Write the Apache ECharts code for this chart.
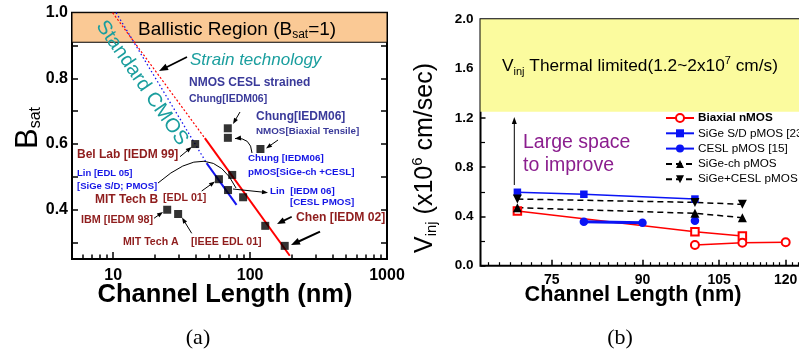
<!DOCTYPE html>
<html><head><meta charset="utf-8">
<script src="https://cdn.jsdelivr.net/npm/echarts@6/dist/echarts.min.js"></script>
<style>html,body{margin:0;padding:0;background:#fff}#c{width:799px;height:351px}</style>
</head><body><div id="c"></div>
<script>
// ---------- Panel (a) data ----------
const aXLabels = [10, 100, 1000];
const aXMinorTicks = [6, 7, 8, 9, 20, 30, 40, 50, 60, 70, 80, 90, 200, 300, 400, 500, 600, 700, 800, 900];
const aYLabels = [0.4, 0.6, 0.8, 1.0];
const aYTicks = [0.3, 0.4, 0.5, 0.6, 0.7, 0.8, 0.9, 1.0];
const strainDotted = [[9.9, 1.0], [46.7, 0.618]];
const strainSolid = [[46.7, 0.618], [195, 0.26]];
const standardDotted = [[10.5, 1.0], [48.1, 0.542]];
const standardSolid = [[48.1, 0.542], [79.6, 0.415]];
const reportedPoints = [[39.7, 0.6], [68.7, 0.648], [68.8, 0.619], [119, 0.585], [74, 0.506], [59.2, 0.493],
  [69, 0.46], [88.9, 0.438], [129, 0.351], [179, 0.29], [24.8, 0.4], [29.8, 0.387]];
const ballisticBand = [0.91, 1.0];

// ---------- Panel (b) data ----------
const bXLabels = [75, 90, 105, 120];
const bYLabels = [0.0, 0.4, 0.8, 1.2, 1.6, 2.0];
const biaxialCircles = [[100, 0.168], [110, 0.187], [120, 0.19]];
const biaxialSquares = [[70, 0.444], [100, 0.276], [110, 0.241]];
const sigeSD = [[70, 0.596], [80, 0.58], [100, 0.541]];
const ceslP = [[80, 0.357], [90, 0.349], [90, '-'], [100, 0.365]];
const sigeCh = [[70, 0.471], [100, 0.425], [110, 0.39]];
const sigeCesl = [[70, 0.541], [100, 0.514], [110, 0.498]];
const thermalBand = [1.25, 2.0];
const seriesNames = ['Biaxial nMOS', 'SiGe S/D pMOS [23]', 'CESL pMOS [15]', 'SiGe-ch pMOS', 'SiGe+CESL pMOS'];

const bXMinorTicks = [];
for (let v = 66; v < 125; v += 1.5) { if (Math.abs(v % 15) > 0.01) bXMinorTicks.push(v); }

const FF = '"Liberation Sans", Arial, sans-serif';
const DR = '#8f1d1d', SL = '#3a3a9a', BL = '#1515e6', TE = '#1a9e9e';

function txt(x, y, text, font, fill, extra) {
  const e = { type: 'text', x: x, y: y, z: 100, style: { text: text, x: 0, y: 0, font: font, fill: fill,
    align: 'left', verticalAlign: 'middle', textAlign: 'left', textVerticalAlign: 'middle' } };
  if (extra) { Object.assign(e, extra.el || {}); Object.assign(e.style, extra.style || {}); }
  return e;
}
function head(x2, y2, ang, hl, hw, col) {
  const c = Math.cos(ang), s = Math.sin(ang);
  const bx = x2 - hl * c, by = y2 - hl * s;
  return { type: 'polygon', z: 100, shape: { points: [[x2, y2], [bx + hw / 2 * s, by - hw / 2 * c], [bx - hw / 2 * s, by + hw / 2 * c]] },
    style: { fill: col || '#000', stroke: null } };
}
function arrow(x1, y1, x2, y2, w, hl, hw) {
  const ang = Math.atan2(y2 - y1, x2 - x1);
  const bx = x2 - hl * 0.8 * Math.cos(ang), by = y2 - hl * 0.8 * Math.sin(ang);
  return [{ type: 'line', z: 100, shape: { x1: x1, y1: y1, x2: bx, y2: by }, style: { stroke: '#000', lineWidth: w } },
    head(x2, y2, ang, hl, hw)];
}
function curve(x1, y1, cx, cy, x2, y2, w, withHead) {
  const out = [{ type: 'bezierCurve', z: 100, shape: { x1: x1, y1: y1, cpx1: cx, cpy1: cy, x2: x2, y2: y2 },
    style: { stroke: '#000', lineWidth: w, fill: null } }];
  if (withHead) out.push(head(x2, y2, Math.atan2(y2 - cy, x2 - cx), 6, 5));
  return out;
}

const graphics = [
  // panel (a) texts
  txt(138, 30, '{n|Ballistic Region (B}{s|sat}{n|=1)}', '19px ' + FF, '#000', { style: { rich: {
    n: { fontSize: 19, fontFamily: FF, fill: '#000', lineHeight: 22 },
    s: { fontSize: 12, fontFamily: FF, fill: '#000', verticalAlign: 'bottom', lineHeight: 12 } } } }),
  txt(142, 83, 'Standard CMOS', '20px ' + FF, TE, { el: { rotation: -0.967 }, style: { align: 'center', textAlign: 'center' } }),
  txt(190, 60, 'Strain technology', 'italic 17px ' + FF, TE),
  txt(189, 83, 'NMOS CESL strained', 'bold 12px ' + FF, SL),
  txt(189, 99, 'Chung[IEDM06]', 'bold 10.5px ' + FF, SL),
  txt(256, 117, 'Chung[IEDM06]', 'bold 12px ' + FF, SL),
  txt(256, 131, 'NMOS[Biaxial Tensile]', 'bold 9.8px ' + FF, SL),
  txt(248, 158, 'Chung [IEDM06]', 'bold 9.8px ' + FF, BL),
  txt(248, 172.7, 'pMOS[SiGe-ch +CESL]', 'bold 9.8px ' + FF, BL),
  txt(270, 191, 'Lin  [IEDM 06]', 'bold 9.8px ' + FF, BL),
  txt(290, 202, '[CESL PMOS]', 'bold 9.8px ' + FF, BL),
  txt(296, 218, 'Chen [IEDM 02]', 'bold 12.2px ' + FF, DR),
  txt(77, 155, 'Bel Lab [IEDM 99]', 'bold 12px ' + FF, DR),
  txt(77, 173, 'Lin [EDL 05]', 'bold 9.5px ' + FF, BL),
  txt(77, 186, '[SiGe S/D; PMOS]', 'bold 9.5px ' + FF, BL),
  txt(95, 200, 'MIT Tech B', 'bold 12px ' + FF, DR),
  txt(163, 198, '[EDL 01]', 'bold 10.7px ' + FF, DR),
  txt(81, 220, 'IBM [IEDM 98]', 'bold 10.8px ' + FF, DR),
  txt(123, 242, 'MIT Tech A', 'bold 10.6px ' + FF, DR),
  txt(191, 242, '[IEEE EDL 01]', 'bold 10.7px ' + FF, DR),
  // panel (a) axis titles
  txt(28, 128, '{b|B}{s|sat}', '31px ' + FF, '#000', { el: { rotation: Math.PI / 2 }, style: { align: 'center', textAlign: 'center', rich: {
    b: { fontSize: 31, fontFamily: FF, fill: '#000', lineHeight: 32 },
    s: { fontSize: 16, fontFamily: FF, fill: '#000', verticalAlign: 'bottom', lineHeight: 14 } } } }),
  txt(225, 295, 'Channel Length (nm)', 'bold 25.5px ' + FF, '#000', { style: { align: 'center', textAlign: 'center' } }),
  txt(198, 338, '(a)', '22px "Liberation Serif", serif', '#000', { style: { align: 'center', textAlign: 'center' } }),
  // panel (b) texts
  txt(502, 66, '{n|V}{s|inj}{n| Thermal limited(1.2~2x10}{p|7}{n| cm/s)}', '17px ' + FF, '#000', { style: { rich: {
    n: { fontSize: 17.3, fontFamily: FF, fill: '#000', lineHeight: 22 },
    s: { fontSize: 11, fontFamily: FF, fill: '#000', verticalAlign: 'bottom', lineHeight: 11 },
    p: { fontSize: 11, fontFamily: FF, fill: '#000', verticalAlign: 'top', lineHeight: 11 } } } }),
  txt(523, 143, 'Large space', '19.5px ' + FF, '#8b1e8e'),
  txt(523, 166, 'to improve', '19.5px ' + FF, '#8b1e8e'),
  txt(425, 158, '{n|V}{s|inj}{n| (x10}{p|6}{n| cm/sec)}', '25px ' + FF, '#000', { el: { rotation: Math.PI / 2 }, style: { align: 'center', textAlign: 'center', rich: {
    n: { fontSize: 25, fontFamily: FF, fill: '#000', lineHeight: 29 },
    s: { fontSize: 15, fontFamily: FF, fill: '#000', verticalAlign: 'bottom', lineHeight: 13 },
    p: { fontSize: 15, fontFamily: FF, fill: '#000', verticalAlign: 'top', lineHeight: 15 } } } }),
  txt(633, 295, 'Channel Length (nm)', 'bold 21.7px ' + FF, '#000', { style: { align: 'center', textAlign: 'center' } }),
  txt(620, 338, '(b)', '22px "Liberation Serif", serif', '#000', { style: { align: 'center', textAlign: 'center' } })
].concat(
  arrow(187, 57, 159, 71, 1.8, 9, 7),
  arrow(240, 112, 233, 124, 1, 6, 4.5),
  arrow(278, 140, 266, 148.5, 1, 6, 4.5),
  arrow(233, 189, 268, 192.7, 1, 6, 4.5),
  arrow(291.7, 216.7, 277, 224, 1.8, 8, 6.5),
  arrow(320, 231.7, 291, 245, 2, 9, 7),
  arrow(180, 156.7, 191.7, 147, 1, 6, 4.5),
  arrow(201.7, 191, 215, 181.5, 1, 6, 4.5),
  arrow(154, 218.3, 163, 212, 1, 6, 4.5),
  arrow(191.7, 233.3, 182, 217.5, 1, 6, 4.5),
  curve(252, 153, 251, 137, 235, 138.5, 1, true),
  curve(158, 183, 211, 137, 236, 188, 1, false),
  arrow(514.3, 185, 514.3, 117, 1, 7, 5)
);

const chart = echarts.init(document.getElementById('c'), null, { renderer: 'canvas' });
const axisFontA = { fontFamily: FF, fontWeight: 'bold', color: '#000' };
const tickStyle = { color: '#000', width: 1.5 };
chart.setOption({
  animation: false,
  backgroundColor: '#fff',
  grid: [
    { left: 72, top: 12.7, width: 315, height: 246.3, show: true, borderColor: '#000', borderWidth: 2, backgroundColor: 'transparent', containLabel: false, outerBoundsMode: 'none' },
    { left: 480.5, top: 19.3, width: 325.5, height: 246.4, show: true, borderColor: '#000', borderWidth: 2, backgroundColor: 'transparent', containLabel: false, outerBoundsMode: 'none' }
  ],
  xAxis: [
    { type: 'log', logBase: 10, gridIndex: 0, min: 5, max: 1000, position: 'bottom',
      axisLine: { show: false }, splitLine: { show: false },
      axisTick: { show: true, inside: true, length: 7, customValues: aXLabels, lineStyle: tickStyle },
      axisLabel: { show: true, customValues: aXLabels, formatter: v => String(Math.round(v)), margin: 9, fontSize: 16, ...axisFontA } },
    { type: 'log', logBase: 10, gridIndex: 0, min: 5, max: 1000, position: 'bottom',
      axisLine: { show: false }, splitLine: { show: false }, axisLabel: { show: false },
      axisTick: { show: true, inside: true, length: 4.5, customValues: aXMinorTicks, lineStyle: tickStyle } },
    { type: 'log', logBase: 10, gridIndex: 1, min: 65, max: 125, position: 'bottom',
      axisLine: { show: false }, splitLine: { show: false },
      axisTick: { show: true, inside: true, length: 6, customValues: bXLabels, lineStyle: tickStyle },
      axisLabel: { show: true, customValues: bXLabels, formatter: v => String(Math.round(v)), margin: 7, fontSize: 14, ...axisFontA } },
    { type: 'log', logBase: 10, gridIndex: 1, min: 65, max: 125, position: 'bottom',
      axisLine: { show: false }, splitLine: { show: false }, axisLabel: { show: false },
      axisTick: { show: true, inside: true, length: 3.5, customValues: bXMinorTicks, lineStyle: { color: '#000', width: 1.2 } } }
  ],
  yAxis: [
    { type: 'value', gridIndex: 0, min: 0.25, max: 1.0, position: 'left',
      axisLine: { show: false }, splitLine: { show: false },
      axisTick: { show: true, inside: true, length: 6, customValues: aYTicks, lineStyle: tickStyle },
      axisLabel: { show: true, customValues: aYLabels, formatter: v => v.toFixed(1), margin: 4, fontSize: 16, ...axisFontA } },
    { type: 'value', gridIndex: 0, min: 0.25, max: 1.0, position: 'right',
      axisLine: { show: false }, splitLine: { show: false }, axisLabel: { show: false },
      axisTick: { show: true, inside: true, length: 6, customValues: aYTicks, lineStyle: tickStyle } },
    { type: 'value', gridIndex: 1, min: 0, max: 2.0, interval: 0.4, position: 'left',
      axisLine: { show: false }, splitLine: { show: false },
      axisTick: { show: true, inside: true, length: 5, lineStyle: tickStyle },
      minorTick: { show: true, splitNumber: 2, length: 4.5, lineStyle: { color: '#000', width: 1.2 } },
      axisLabel: { show: true, customValues: bYLabels, formatter: v => v.toFixed(1), margin: 7, fontSize: 13.5, ...axisFontA } }
  ],
  legend: {
    show: true, orient: 'vertical', left: 665, top: 111.5, itemWidth: 28, itemHeight: 10, itemGap: 2.3,
    selectedMode: false, padding: 0,
    textStyle: { fontFamily: FF, fontSize: 11.7, color: '#000', lineHeight: 13, padding: [0, 0, 0, -1] },
    data: seriesNames.map((n, i) => i === 0 ? { name: n, textStyle: { fontWeight: 'bold' } } : { name: n })
  },
  series: [
    { name: 'strainDotted', type: 'line', xAxisIndex: 0, yAxisIndex: 0, data: strainDotted, showSymbol: false, symbol: 'none',
      lineStyle: { color: '#f00', width: 1.2, type: [2, 2] },
      markArea: { silent: true, itemStyle: { color: '#fac995', borderColor: '#000', borderWidth: 1 },
        data: [[{ xAxis: 5, yAxis: ballisticBand[0] }, { xAxis: 1000, yAxis: ballisticBand[1] }]] } },
    { name: 'strainSolid', type: 'line', xAxisIndex: 0, yAxisIndex: 0, data: strainSolid, showSymbol: false, symbol: 'none',
      lineStyle: { color: '#f00', width: 2 } },
    { name: 'standardDotted', type: 'line', xAxisIndex: 0, yAxisIndex: 0, data: standardDotted, showSymbol: false, symbol: 'none',
      lineStyle: { color: '#1515f0', width: 1.3, type: [1.5, 2.5] } },
    { name: 'standardSolid', type: 'line', xAxisIndex: 0, yAxisIndex: 0, data: standardSolid, showSymbol: false, symbol: 'none',
      lineStyle: { color: '#1515f0', width: 2 } },
    { name: 'reported', type: 'scatter', xAxisIndex: 0, yAxisIndex: 0, data: reportedPoints, symbol: 'rect', symbolSize: 8,
      itemStyle: { color: '#000' }, z: 5 },
    // panel (b)
    { name: 'biaxialSq', type: 'line', xAxisIndex: 2, yAxisIndex: 2, data: biaxialSquares, symbol: 'emptyRect', symbolSize: 7.5,
      lineStyle: { color: '#f00', width: 1.5 }, itemStyle: { color: '#f00', borderColor: '#f00', borderWidth: 1.3 },
      markArea: { silent: true, itemStyle: { color: '#fbfb9e' },
        data: [[{ xAxis: 65, yAxis: thermalBand[0] }, { xAxis: 125, yAxis: thermalBand[1] }]] } },
    { name: seriesNames[0], type: 'line', xAxisIndex: 2, yAxisIndex: 2, data: biaxialCircles, symbol: 'emptyCircle', symbolSize: 8,
      lineStyle: { color: '#f00', width: 1.5 }, itemStyle: { color: '#f00', borderColor: '#f00', borderWidth: 1.3 } },
    { name: seriesNames[1], type: 'line', xAxisIndex: 2, yAxisIndex: 2, data: sigeSD, symbol: 'rect', symbolSize: 7.5,
      lineStyle: { color: '#0a14f5', width: 1.5 }, itemStyle: { color: '#0a14f5' } },
    { name: seriesNames[2], type: 'line', xAxisIndex: 2, yAxisIndex: 2, data: ceslP, symbol: 'circle', symbolSize: 8.5, connectNulls: false,
      lineStyle: { color: '#0a14f5', width: 3 }, itemStyle: { color: '#0a14f5' } },
    { name: seriesNames[3], type: 'line', xAxisIndex: 2, yAxisIndex: 2, data: sigeCh, symbol: 'triangle', symbolSize: 9,
      lineStyle: { color: '#000', width: 1.5, type: [6, 4] }, itemStyle: { color: '#000' } },
    { name: seriesNames[4], type: 'line', xAxisIndex: 2, yAxisIndex: 2, data: sigeCesl, symbol: 'triangle', symbolRotate: 180, symbolSize: 9,
      lineStyle: { color: '#000', width: 1.5, type: [6, 4] }, itemStyle: { color: '#000' } }
  ],
  graphic: { elements: graphics }
});
</script></body></html>
